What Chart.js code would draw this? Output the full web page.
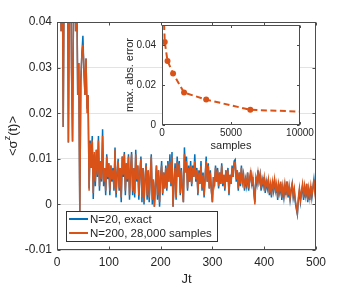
<!DOCTYPE html>
<html><head><meta charset="utf-8">
<script src="https://cdn.jsdelivr.net/npm/chart.js@4.4.0/dist/chart.umd.min.js"></script>
<style>html,body{margin:0;padding:0;background:#fff;width:349px;height:288px;overflow:hidden}
canvas{position:absolute;left:0;top:0}</style></head>
<body><canvas id="main" width="349" height="288"></canvas><canvas id="inset" width="349" height="288"></canvas>
<script>
const jtStep = 2;
const exactN20 = [
0.25,0.15,0.08,0.052,0.038,0.06,0.017,0.055,0.07,0.046,
0.06,0.0136,0.05,0.065,0.03,0.0138,0.045,0.058,0.038,0.05,
0.024,0.031,-0.0015,0.027,0.033,0.037,0.029,0.024,0.032,0.021,
0.024,0.0035,0.014,0.008,0.015,0.0012,0.011,0.004,0.012,0.006,
0.015,0.003,0.009,0.005,0.0165,0.004,0.008,0.002,0.011,0.0055,
0.009,0.002,0.0085,0.005,0.008,0.003,0.0125,0.0015,0.0065,0.01,
0.003,0.008,0.0005,0.0105,0.006,0.0115,0.002,0.009,0.005,0.011,
0.001,0.0075,0.0115,0.002,0.008,0.0015,0.012,0.005,0.0085,0.001,
0.007,0.0105,0.0005,0.008,0.0,0.0055,0.009,0.001,0.0075,0.0005,
0.006,0.011,0.0,0.005,-0.0005,0.004,0.0085,0.001,0.0075,-0.0005,
0.006,0.0095,0.002,0.007,0.0035,0.0085,0.003,0.0095,0.005,0.011,
0.004,0.0115,-0.0005,0.005,0.009,0.001,0.0105,0.006,0.0095,0.002,
0.008,0.0035,0.0005,0.0125,0.007,0.0105,0.003,0.0085,0.005,0.0095,
0.004,0.0085,0.006,0.011,0.005,0.008,0.002,0.0075,0.0045,0.0095,
0.003,0.007,0.0015,0.006,0.0105,0.005,0.009,0.0035,0.0075,0.003,
0.0005,0.006,0.004,0.0085,0.005,0.008,0.0035,0.007,0.0045,0.009,
0.004,0.0065,0.003,0.0075,0.005,0.008,0.002,0.0065,0.0045,0.0085,
0.006,0.0095,0.0098,0.005,0.0075,0.003,0.007,0.004,0.0085,0.005,
0.0065,0.003,0.0055,0.004,0.007,0.003,0.0055,0.0075,0.004,0.006,
0.0025,0.0005,0.006,0.0045,0.0075,0.005,0.0065,0.003,0.0055,0.004,
0.006,0.0025,0.005,0.0035,0.0055,0.002,0.0045,0.0015,0.005,0.003,
0.0055,0.0025,0.0045,0.001,0.004,0.0025,0.0045,0.001,0.0035,0.0015,
0.004,0.002,0.005,0.0015,0.0035,0.001,0.003,0.0045,0.0015,0.003,
0.0005,-0.001,-0.0022,0.001,0.003,0.0005,0.0025,0.004,0.001,0.0035,
0.0015,0.0045,0.0005,0.003,0.001,0.004,0.0015,0.0035,0.0055,0.003,
0.001];
const sampledN200 = [
0.25,0.15,0.08,0.052,0.038,0.06,0.017,0.055,0.07,0.046,
0.06,0.0136,0.05,0.065,0.03,0.0138,0.045,0.058,0.038,0.05,
0.024,0.031,-0.0015,0.027,0.033,0.035,0.03,0.024,0.032,0.02,
0.024,0.003,0.0135,0.008,0.014,0.0025,0.0115,0.005,0.012,0.0065,
0.014,0.004,0.0095,0.0055,0.015,0.005,0.008,0.003,0.0105,0.006,
0.009,0.003,0.0085,0.0055,0.0075,0.0035,0.012,0.0025,0.0065,0.0095,
0.0035,0.008,0.0015,0.0105,0.0065,0.011,0.003,0.009,0.0055,0.0105,
0.002,0.0075,0.011,0.003,0.008,0.0025,0.011,0.0055,0.0085,0.002,
0.007,0.01,0.0015,0.008,0.0005,0.006,0.0085,0.002,0.0075,0.0015,
0.006,0.0105,0.001,0.0055,-0.0005,0.0045,0.0085,0.002,0.0075,0.0005,
0.006,0.0085,0.0025,0.007,0.0035,0.008,0.0035,0.009,0.005,0.0095,
0.0045,0.0105,-0.0005,0.005,0.008,0.0015,0.0095,0.006,0.009,0.0025,
0.0075,0.0035,0.0005,0.011,0.007,0.0095,0.0035,0.008,0.005,0.0085,
0.0045,0.008,0.006,0.0095,0.0055,0.0075,0.0025,0.007,0.0045,0.0085,
0.0035,0.0065,0.002,0.006,0.0095,0.005,0.0085,0.0035,0.007,0.003,
0.0005,0.006,0.0045,0.008,0.005,0.0075,0.004,0.007,0.0045,0.0085,
0.0045,0.0065,0.0035,0.0075,0.005,0.0075,0.0025,0.0065,0.0045,0.008,
0.006,0.009,0.0092,0.0055,0.0075,0.0035,0.007,0.0045,0.008,0.005,
0.0065,0.0035,0.0055,0.0045,0.007,0.0035,0.0055,0.007,0.0045,0.006,
0.003,0.0,0.006,0.005,0.007,0.005,0.0065,0.0035,0.0055,0.0045,
0.006,0.003,0.005,0.004,0.0055,0.0025,0.0045,0.002,0.005,0.0035,
0.0055,0.003,0.0045,0.0015,0.0045,0.003,0.005,0.0015,0.004,0.002,
0.0045,0.0025,0.005,0.002,0.004,0.0015,0.0035,0.0045,0.002,0.0035,
0.001,-0.0005,-0.002,0.0015,0.0035,0.001,0.003,0.0045,0.0015,0.004,
0.002,0.0045,0.001,0.0035,0.0015,0.004,0.002,0.0035,0.0055,0.0025,
0.0005];
const seriesLabels = ['N=20, exact', 'N=200, 28,000 samples'];
const seriesColors = ['#0072BD', '#D95319'];
const xTicks = [0, 100, 200, 300, 400, 500];
const yTicks = [-0.01, 0, 0.01, 0.02, 0.03, 0.04];
const yTickLabels = ['-0.01', '0', '0.01', '0.02', '0.03', '0.04'];
const insetSamples = [100, 200, 400, 800, 1600, 3200, 6400, 12800];
const insetError = [0.06, 0.0415, 0.032, 0.0258, 0.0162, 0.0127, 0.0076, 0.006];
const insetXTicks = [0, 5000, 10000];
const insetXTickLabels = ['0', '5000', '10000'];
const insetYTicks = [0, 0.02, 0.04];
const insetYTickLabels = ['0', '0.02', '0.04'];

const FONT = '"Liberation Sans", Arial, Helvetica, sans-serif';
const TXT = '#262626';
const AXC = '#4d4d4d';
Chart.defaults.font.family = FONT;
Chart.defaults.color = TXT;
Chart.defaults.animation = false;

function boxTicks(len, fillWhite) {
  return {
    id: 'boxTicks',
    beforeDraw(chart) {
      if (!fillWhite) return;
      const {ctx, chartArea: a} = chart;
      ctx.save(); ctx.fillStyle = '#fff';
      ctx.fillRect(a.left, a.top, a.right - a.left, a.bottom - a.top);
      ctx.restore();
    },
    afterDatasetsDraw(chart) {
      const {ctx, chartArea: a, scales} = chart;
      ctx.save(); ctx.strokeStyle = AXC; ctx.lineWidth = 1; ctx.beginPath();
      const l = Math.round(a.left) + 0.5, r = Math.round(a.right) - 0.5;
      const t = Math.round(a.top) + 0.5, b = Math.round(a.bottom) - 0.5;
      scales.x.ticks.forEach(tk => {
        const px = Math.round(scales.x.getPixelForValue(tk.value)) + 0.5;
        ctx.moveTo(px, b); ctx.lineTo(px, b - len);
        ctx.moveTo(px, t); ctx.lineTo(px, t + len);
      });
      scales.y.ticks.forEach(tk => {
        const py = Math.round(scales.y.getPixelForValue(tk.value)) + 0.5;
        ctx.moveTo(l, py); ctx.lineTo(l + len, py);
        ctx.moveTo(r, py); ctx.lineTo(r - len, py);
      });
      ctx.stroke();
      ctx.strokeRect(l, t, r - l, b - t);
      ctx.restore();
    }
  };
}

const mainTitles = {
  id: 'mainTitles',
  afterDraw(chart) {
    const {ctx, chartArea: a} = chart;
    ctx.save(); ctx.fillStyle = TXT;
    ctx.font = '13px ' + FONT; ctx.textAlign = 'center'; ctx.textBaseline = 'middle';
    ctx.fillText('Jt', (a.left + a.right) / 2, 279);
    ctx.translate(13, (a.top + a.bottom) / 2); ctx.rotate(-Math.PI / 2);
    ctx.textAlign = 'left';
    const p1 = '<\u03C3', p2 = 'z', p3 = '(t)>';
    ctx.font = '13px ' + FONT; const w1 = ctx.measureText(p1).width, w3 = ctx.measureText(p3).width;
    ctx.font = '9px ' + FONT; const w2 = ctx.measureText(p2).width;
    let x0 = -(w1 + w2 + w3) / 2;
    ctx.font = '13px ' + FONT; ctx.fillText(p1, x0, 0);
    ctx.font = '9px ' + FONT; ctx.fillText(p2, x0 + w1, -5);
    ctx.font = '13px ' + FONT; ctx.fillText(p3, x0 + w1 + w2, 0);
    ctx.restore();
    // legend
    ctx.save();
    const lx = 66.5, ly = 211.5, lw = 151, lh = 30;
    ctx.fillStyle = '#fff'; ctx.fillRect(lx, ly, lw, lh);
    ctx.strokeStyle = '#333'; ctx.lineWidth = 1; ctx.strokeRect(lx, ly, lw, lh);
    ctx.font = '11.5px ' + FONT; ctx.textBaseline = 'middle'; ctx.textAlign = 'left';
    chart.data.datasets.forEach((ds, i) => {
      const y = 219 + i * 14;
      ctx.strokeStyle = ds.borderColor; ctx.lineWidth = 2;
      ctx.beginPath(); ctx.moveTo(69, y); ctx.lineTo(88, y); ctx.stroke();
      ctx.fillStyle = TXT; ctx.fillText(ds.label, 90, y + 0.5);
    });
    ctx.restore();
  }
};

new Chart(document.getElementById('main'), {
  type: 'line',
  data: {
    datasets: [exactN20, sampledN200].map((arr, k) => ({
      label: seriesLabels[k],
      data: arr.map((v, i) => ({x: i * jtStep, y: v})),
      borderColor: seriesColors[k],
      borderWidth: 1.5,
      pointRadius: 0,
      tension: 0,
      clip: 0,
      order: 1 - k
    }))
  },
  options: {
    responsive: false,
    layout: {padding: {top: 22, right: 33, left: 0, bottom: 0}},
    plugins: {legend: {display: false}, tooltip: {enabled: false}},
    scales: {
      x: {
        type: 'linear', min: 0, max: 500,
        afterBuildTicks: s => { s.ticks = xTicks.map(v => ({value: v})); },
        afterFit: s => { s.height = 38; },
        ticks: {font: {size: 12}, color: TXT, padding: 5, maxRotation: 0, autoSkip: false, callback: v => String(v)},
        grid: {display: false, drawTicks: false},
        border: {display: false}
      },
      y: {
        type: 'linear', min: -0.01, max: 0.04,
        afterBuildTicks: s => { s.ticks = yTicks.map(v => ({value: v})); },
        afterFit: s => { s.width = 57; },
        ticks: {font: {size: 12}, color: TXT, padding: 5, autoSkip: false, callback: (v, i) => yTickLabels[i]},
        grid: {color: '#e3e3e3', drawTicks: false, lineWidth: 1},
        border: {display: false}
      }
    }
  },
  plugins: [boxTicks(3, false), mainTitles]
});

const insetTitles = {
  id: 'insetTitles',
  afterDraw(chart) {
    const {ctx, chartArea: a, scales} = chart;
    ctx.save(); ctx.fillStyle = TXT;
    ctx.font = '10px ' + FONT; ctx.textAlign = 'center'; ctx.textBaseline = 'middle';
    insetXTicks.forEach((v, i) => ctx.fillText(insetXTickLabels[i], scales.x.getPixelForValue(v), a.bottom + 8.5));
    ctx.font = '11px ' + FONT;
    ctx.fillText('samples', (a.left + a.right) / 2, 146);
    ctx.translate(130, (a.top + a.bottom) / 2); ctx.rotate(-Math.PI / 2);
    ctx.fillText('max. abs. error', 0, 0);
    ctx.restore();
  }
};

new Chart(document.getElementById('inset'), {
  type: 'line',
  data: {
    datasets: [{
      label: 'max. abs. error',
      data: insetSamples.map((s, i) => ({x: s, y: insetError[i]})),
      borderColor: '#D95319',
      backgroundColor: '#D95319',
      borderWidth: 2,
      borderDash: [6, 3.5],
      pointRadius: 3,
      pointBorderWidth: 0,
      pointHoverRadius: 3,
      tension: 0,
      clip: 0
    }]
  },
  options: {
    responsive: false,
    layout: {padding: {top: 25, right: 49, left: 0, bottom: 0}},
    plugins: {legend: {display: false}, tooltip: {enabled: false}},
    scales: {
      x: {
        type: 'linear', min: 0, max: 10000,
        afterBuildTicks: s => { s.ticks = insetXTicks.map(v => ({value: v})); },
        afterFit: s => { s.height = 163; },
        ticks: {display: false},
        grid: {display: false, drawTicks: false},
        border: {display: false}
      },
      y: {
        type: 'linear', min: 0, max: 0.05,
        afterBuildTicks: s => { s.ticks = insetYTicks.map(v => ({value: v})); },
        afterFit: s => { s.width = 162; },
        ticks: {font: {size: 10}, color: TXT, padding: 6, autoSkip: false, callback: (v, i) => insetYTickLabels[i]},
        grid: {display: false, drawTicks: false},
        border: {display: false}
      }
    }
  },
  plugins: [boxTicks(2.5, true), insetTitles]
});
</script>
</body></html>
